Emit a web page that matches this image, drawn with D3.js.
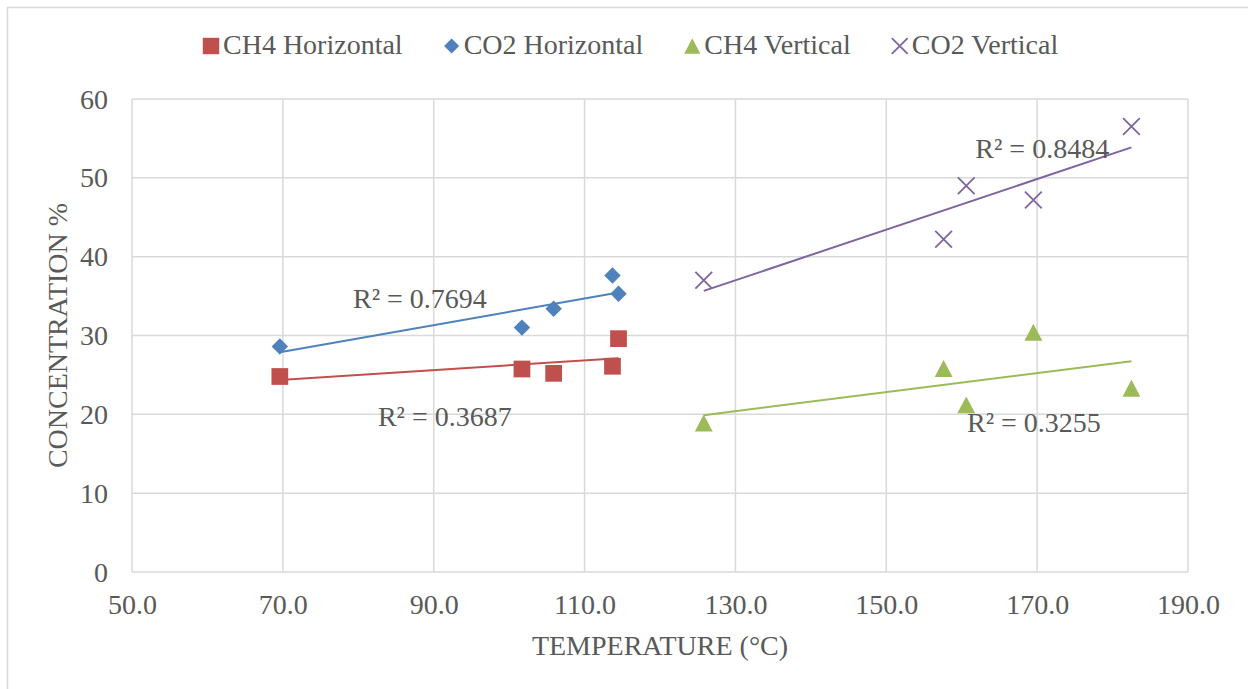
<!DOCTYPE html>
<html>
<head>
<meta charset="utf-8">
<script src="https://cdn.jsdelivr.net/npm/d3@7"></script>
<style>
  html, body { margin: 0; padding: 0; background: #ffffff; }
  svg { display: block; }
  text { font-family: "Times New Roman", "Liberation Serif", serif; fill: #595959; }
</style>
</head>
<body>
<svg id="chart" width="1248" height="689"></svg>
<script>
// Temperature (°C) and gas concentration (%) per series
const ch4HorizontalX = [69.6, 101.7, 105.9, 113.7, 114.5];
const ch4HorizontalY = [24.8, 25.75, 25.2, 26.1, 29.6];
const co2HorizontalX = [69.6, 101.7, 105.9, 113.7, 114.5];
const co2HorizontalY = [28.6, 31.0, 33.4, 37.6, 35.3];
const ch4VerticalX = [125.8, 157.6, 160.6, 169.5, 182.5];
const ch4VerticalY = [18.9, 25.8, 21.2, 30.4, 23.3];
const co2VerticalX = [125.8, 157.6, 160.6, 169.5, 182.5];
const co2VerticalY = [37.0, 42.2, 49.0, 47.2, 56.5];

const seriesNames = ["CH4 Horizontal", "CO2 Horizontal", "CH4 Vertical", "CO2 Vertical"];
const seriesColors = ["#C0504D", "#4F81BD", "#9BBB59", "#8064A2"];
const seriesShapes = ["square", "diamond", "triangle", "cross"];
const rSquaredLabels = ["R² = 0.3687", "R² = 0.7694", "R² = 0.3255", "R² = 0.8484"];
// label anchor (left end of baseline) in data units
const rSquaredLabelX = [82.6, 79.3, 160.7, 161.8];
const rSquaredLabelY = [18.55, 33.5, 17.8, 52.5];

const xTicks = [50, 70, 90, 110, 130, 150, 170, 190];
const yTicks = [0, 10, 20, 30, 40, 50, 60];
const xTitle = "TEMPERATURE (°C)";
const yTitle = "CONCENTRATION %";

const series = seriesNames.map((name, i) => {
  const xs = [ch4HorizontalX, co2HorizontalX, ch4VerticalX, co2VerticalX][i];
  const ys = [ch4HorizontalY, co2HorizontalY, ch4VerticalY, co2VerticalY][i];
  return { name, color: seriesColors[i], shape: seriesShapes[i],
           points: xs.map((x, j) => ({ x, y: ys[j] })),
           label: rSquaredLabels[i], lx: rSquaredLabelX[i], ly: rSquaredLabelY[i] };
});

const svg = d3.select("#chart");
const W = 1248, H = 689;
const plot = { left: 132, right: 1188, top: 99, bottom: 572 };
const fontSize = 28;

// outer chart frame
svg.append("rect").attr("x", 7.5).attr("y", 7.5).attr("width", W + 10).attr("height", H + 10)
  .attr("fill", "#fff").attr("stroke", "#d9d9d9").attr("stroke-width", 1.5);

const x = d3.scaleLinear().domain([50, 190]).range([plot.left, plot.right]);
const y = d3.scaleLinear().domain([0, 60]).range([plot.bottom, plot.top]);

// gridlines
const grid = svg.append("g").attr("stroke", "#d9d9d9").attr("stroke-width", 1.5);
grid.selectAll("line.v").data(xTicks).join("line")
  .attr("x1", d => x(d)).attr("x2", d => x(d)).attr("y1", plot.top).attr("y2", plot.bottom);
grid.selectAll("line.h").data(yTicks).join("line")
  .attr("x1", plot.left).attr("x2", plot.right).attr("y1", d => y(d)).attr("y2", d => y(d));

// axes (labels only)
const xAxis = svg.append("g").attr("transform", `translate(0,${plot.bottom})`)
  .call(d3.axisBottom(x).tickValues(xTicks).tickFormat(d3.format(".1f")).tickSize(0).tickPadding(18));
const yAxis = svg.append("g").attr("transform", `translate(${plot.left},0)`)
  .call(d3.axisLeft(y).tickValues(yTicks).tickSize(0).tickPadding(24));
[xAxis, yAxis].forEach(a => {
  a.select(".domain").remove();
  a.selectAll("text").attr("font-size", fontSize).attr("fill", "#595959")
    .style("font-family", '"Times New Roman", "Liberation Serif", serif');
});
xAxis.selectAll("text").attr("dy", null).attr("y", 42);
yAxis.selectAll("text").attr("dy", null).attr("y", 9);

// axis titles
svg.append("text").attr("x", (plot.left + plot.right) / 2).attr("y", 655)
  .attr("text-anchor", "middle").attr("font-size", fontSize).text(xTitle);
svg.append("text").attr("transform", `translate(67,${(plot.top + plot.bottom) / 2}) rotate(-90)`)
  .attr("text-anchor", "middle").attr("font-size", fontSize).text(yTitle);

// marker shapes
const diamondType = { draw(ctx, size) { const r = Math.sqrt(size / 2);
  ctx.moveTo(0, -r); ctx.lineTo(r, 0); ctx.lineTo(0, r); ctx.lineTo(-r, 0); ctx.closePath(); } };
const triangleType = { draw(ctx, size) { const w = Math.sqrt(size * 2) / 2, h = w * 0.95;
  ctx.moveTo(0, -h); ctx.lineTo(w, h); ctx.lineTo(-w, h); ctx.closePath(); } };
const crossType = { draw(ctx, size) { const r = Math.sqrt(size) / 2;
  ctx.moveTo(-r, -r); ctx.lineTo(r, r); ctx.moveTo(r, -r); ctx.lineTo(-r, r); } };
const symbolFor = {
  square: d3.symbol(d3.symbolSquare, 280),
  diamond: d3.symbol(diamondType, 135),
  triangle: d3.symbol(triangleType, 160),
  cross: d3.symbol(crossType, 280)
};
const legendSymbolFor = {
  square: d3.symbol(d3.symbolSquare, 270),
  diamond: d3.symbol(diamondType, 115),
  triangle: d3.symbol(triangleType, 130),
  cross: d3.symbol(crossType, 250)
};
function drawMarker(g, gen, shape, color, cx, cy) {
  const p = g.append("path").attr("d", gen[shape]())
    .attr("transform", `translate(${cx},${cy})`);
  if (shape === "cross") p.attr("fill", "none").attr("stroke", color).attr("stroke-width", 1.8);
  else p.attr("fill", color);
}

// least-squares trendline
function linFit(pts) {
  const mx = d3.mean(pts, p => p.x), my = d3.mean(pts, p => p.y);
  const sxy = d3.sum(pts, p => (p.x - mx) * (p.y - my));
  const sxx = d3.sum(pts, p => (p.x - mx) ** 2);
  const b = sxy / sxx, a = my - b * mx;
  return v => a + b * v;
}

const marks = svg.append("g");
series.forEach(s => {
  const f = linFit(s.points);
  const [x0, x1] = d3.extent(s.points, p => p.x);
  marks.append("line")
    .attr("x1", x(x0)).attr("y1", y(f(x0))).attr("x2", x(x1)).attr("y2", y(f(x1)))
    .attr("stroke", s.color).attr("stroke-width", 2);
});
series.forEach(s => {
  s.points.forEach(p => drawMarker(marks, symbolFor, s.shape, s.color, x(p.x), y(p.y)));
});
series.forEach(s => {
  marks.append("text").attr("x", x(s.lx)).attr("y", y(s.ly)).attr("font-size", fontSize).text(s.label);
});

// legend laid out left to right
const legend = svg.append("g");
let cursor = 202;
const legendBaseline = 54;
series.forEach(s => {
  drawMarker(legend, legendSymbolFor, s.shape, s.color, cursor + 9, legendBaseline - 8);
  const t = legend.append("text").attr("x", cursor + 21).attr("y", legendBaseline)
    .attr("font-size", fontSize).text(s.name);
  cursor += 21 + t.node().getComputedTextLength() + 40;
});
</script>
</body>
</html>
